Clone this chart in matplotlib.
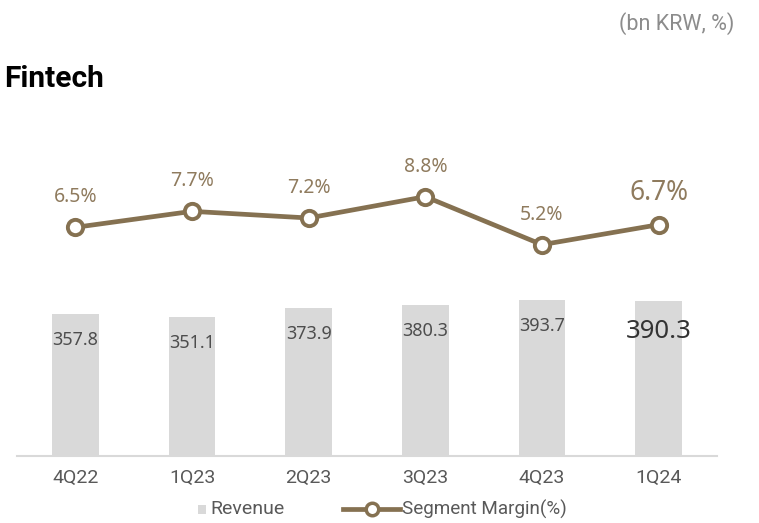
import matplotlib
matplotlib.use("Agg")
import matplotlib.pyplot as plt
from matplotlib.patches import Rectangle
from matplotlib.lines import Line2D

categories = ["4Q22", "1Q23", "2Q23", "3Q23", "4Q23", "1Q24"]
revenue = [357.8, 351.1, 373.9, 380.3, 393.7, 390.3]
margin = [6.5, 7.7, 7.2, 8.8, 5.2, 6.7]

plt.rcParams['font.family'] = ['Noto Sans', 'DejaVu Sans']

W, H = 759, 523
fig = plt.figure(figsize=(W/100, H/100), dpi=100)
ax = fig.add_axes([17/W, 1-456/H, 700/W, 326/H])
x = list(range(len(categories)))

bar_color = "#d9d9d9"
line_color = "#857151"
label_color = "#8f7b5e"

ax.bar(x, revenue, width=0.4, color=bar_color, zorder=2)
ax.set_xlim(-0.5, 5.5)
ax.set_ylim(0, 821)
for s in ["top", "right", "left"]:
    ax.spines[s].set_visible(False)
ax.spines["bottom"].set_color("#d9d9d9")
ax.spines["bottom"].set_linewidth(1.5)
ax.set_yticks([])
ax.set_xticks(x)
ax.set_xticklabels(categories, fontsize=14, color="#595959", family="Roboto")
ax.tick_params(axis='x', length=0, pad=9)

for i, v in enumerate(revenue):
    last = i == len(revenue) - 1
    ax.annotate(f"{v:.1f}", (i, v), xytext=(0, -19 if not last else -22), textcoords="offset points",
                ha="center", va="center", fontsize=18.5 if last else 13,
                color="#333333" if last else "#4d4d4d", zorder=3)

ax2 = ax.twinx()
ax2.set_ylim(-10.65, 13.8)
ax2.axis("off")
ax2.plot(x, margin, color=line_color, lw=3.4, marker="o", markersize=11,
         markerfacecolor="white", markeredgecolor=line_color, markeredgewidth=2.8, zorder=4)
for i, v in enumerate(margin):
    last = i == len(margin) - 1
    ax2.annotate(f"{v:.1f}%", (i, v), xytext=(0, 21.5 if not last else 23), textcoords="offset points",
                 ha="center", va="center", fontsize=19 if last else 14, color=label_color)

fig.text(4/W, 1-79/H, "Fintech", fontsize=21.5, fontweight="bold", color="black",
         ha="left", va="center", family="Roboto")
fig.text(734/W, 1-24/H, "(bn KRW, %)", fontsize=15.5, color="#8c8c8c", ha="right", va="center",
         family="Roboto")

# legend drawn manually in pixel-based figure coordinates
ly = 1 - 509/H
fig.add_artist(Rectangle((198/W, 1-514/H), 8/W, 9/H, transform=fig.transFigure,
                         facecolor=bar_color, edgecolor="none"))
fig.text(210/W, ly, "Revenue", fontsize=14, color="#595959", ha="left", va="center", family="Roboto")
fig.add_artist(Line2D([343/W, 400/W], [ly, ly], transform=fig.transFigure, color=line_color, lw=3.4))
fig.add_artist(Line2D([371.5/W], [ly], transform=fig.transFigure, color=line_color, marker="o",
                      markersize=9, markerfacecolor="white", markeredgecolor=line_color,
                      markeredgewidth=2.5))
fig.text(402/W, ly, "Segment Margin(%)", fontsize=13.6, color="#595959", ha="left", va="center",
         family="Roboto")

fig.savefig("out.png", dpi=100)
